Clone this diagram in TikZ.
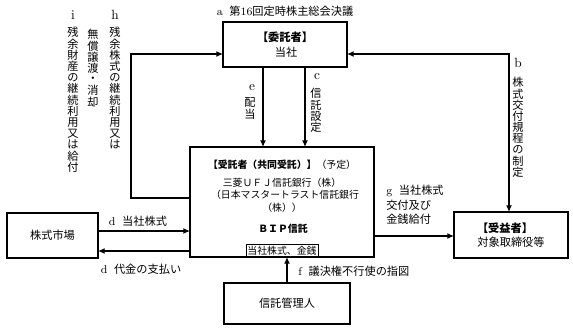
\documentclass[tikz,border=0pt]{standalone}
\usepackage{fontspec}
\newfontfamily\jpfont{Noto Sans CJK JP}
\usetikzlibrary{arrows.meta}
\usetikzlibrary{calc}

\begin{document}
\begin{tikzpicture}[x=0.75pt, y=-0.75pt, >={Latex[length=5pt,width=4.5pt]},
    every node/.style={font=\jpfont\fontsize{8.4}{8.4}\selectfont, inner sep=0pt},
    box/.style={draw, line width=0.8pt, outer sep=0pt},
    head/.style={font=\jpfont\bfseries\fontsize{8.4}{8.4}\selectfont},
    small/.style={font=\jpfont\fontsize{7.4}{8}\selectfont},
    link/.style={line width=1pt, ->}]

        \useasboundingbox (0,0) rectangle (573,333);

        % boxes
        \node[box, minimum width=93pt, minimum height=33.75pt] (truster) at (285,44.5) {};
        \node[head] (trusterhead) at (285,37) {【委託者】};
        \node (trustername) at (286,52) {当社};

        \node[box, minimum width=138pt, minimum height=82.5pt] (trustee) at (282,202) {};
        \node[small] (trusteehead) at (282,165) {{\bfseries 【受託者（共同受託）】}（予定）};
        \node[small] (bank1) at (282,183) {三菱ＵＦＪ信託銀行（株）};
        \node[small] (bank2) at (285,195) {（日本マスタートラスト信託銀行};
        \node[small] (bank3) at (282,208) {（株））};
        \node[small, font=\jpfont\bfseries\fontsize{7.4}{8}\selectfont] (bip) at (283,229) {ＢＩＰ信託};
        \node[box, small, line width=0.6pt, minimum width=54pt, minimum height=9.5pt, anchor=south] (asset) at (trustee.south) {当社株式、金銭};

        \node[box, minimum width=68.25pt, minimum height=33.75pt] (market) at (52.5,235.5) {株式市場};
        \node[box, minimum width=94.5pt, minimum height=30.75pt] (admin) at (287,303.5) {信託管理人};

        \node[box, minimum width=85.5pt, minimum height=34.5pt] (beneficiary) at (511,235) {};
        \node[head] (benehead) at (505,228) {【受益者】};
        \node (benename) at (511,242) {対象取締役等};

        % connectors
        \draw[link] (truster.south -| 263,0) -- (trustee.north -| 263,0);
        \draw[link] (truster.south -| 305,0) -- (trustee.north -| 305,0);
        \draw[link] (trustee.west |- 0,198) -| (131,54) -- (truster.west |- 0,54);
        \draw[link, <->] (beneficiary.north -| 509,0) |- (truster.east |- 0,54);
        \draw[link] (market.east |- 0,231) -- (trustee.west |- 0,231);
        \draw[link] (trustee.west |- 0,251) -- (market.east |- 0,251);
        \draw[link] (trustee.east |- 0,236) -- (beneficiary.west |- 0,236);
        \draw[link] (admin.north -| 287,0) -- (trustee.south -| 287,0);

        % labels
        \node (alabel) at (285,11) {{\rmfamily a}\hspace{5pt}第{\rmfamily 16}回定時株主総会決議};
        \node (dtop) at (138,221) {{\rmfamily d}\hspace{5pt}当社株式};
        \node (dbottom) at (141,269) {{\rmfamily d}\hspace{5pt}代金の支払い};
        \node[anchor=west] (flabel) at (298,271) {{\rmfamily f}\hspace{5pt}議決権不行使の指図};
        \node[anchor=north west, align=left, font=\jpfont\fontsize{8.4}{10.9}\selectfont] (glabel) at (386,185) {{\rmfamily g}\hspace{5pt}当社株式\\交付及び\\金銭給付};

        % vertical labels
        \node[font=\rmfamily] (ilabel) at (73,15) {i};
        \foreach \ch [count=\k] in {残,余,財,産,の,継,続,利,用,又,は,給,付}
          \node (i\k) at (73,21.4+11.2*\k) {\ch};

        \node[font=\rmfamily] (hlabel) at (115,15) {h};
        \foreach \ch [count=\k] in {残,余,株,式,の,継,続,利,用,又,は}
          \node (h\k) at (115,21.4+11.2*\k) {\ch};
        \foreach \ch [count=\k] in {無,償,譲,渡,・,消,却}
          \node (hh\k) at (93,23.4+11.2*\k) {\ch};

        \node[font=\rmfamily] (elabel) at (252,88) {e};
        \foreach \ch [count=\k] in {配,当}
          \node (e\k) at (250,91.4+11.2*\k) {\ch};

        \node[font=\rmfamily] (clabel) at (317,77) {c};
        \foreach \ch [count=\k] in {信,託,設,定}
          \node (c\k) at (316,82.4+11.2*\k) {\ch};

        \node[font=\rmfamily] (blabel) at (518,63) {b};
        \foreach \ch [count=\k] in {株,式,交,付,規,程,の,制,定}
          \node (b\k) at (518,71.4+11.2*\k) {\ch};

\end{tikzpicture}
\end{document}
